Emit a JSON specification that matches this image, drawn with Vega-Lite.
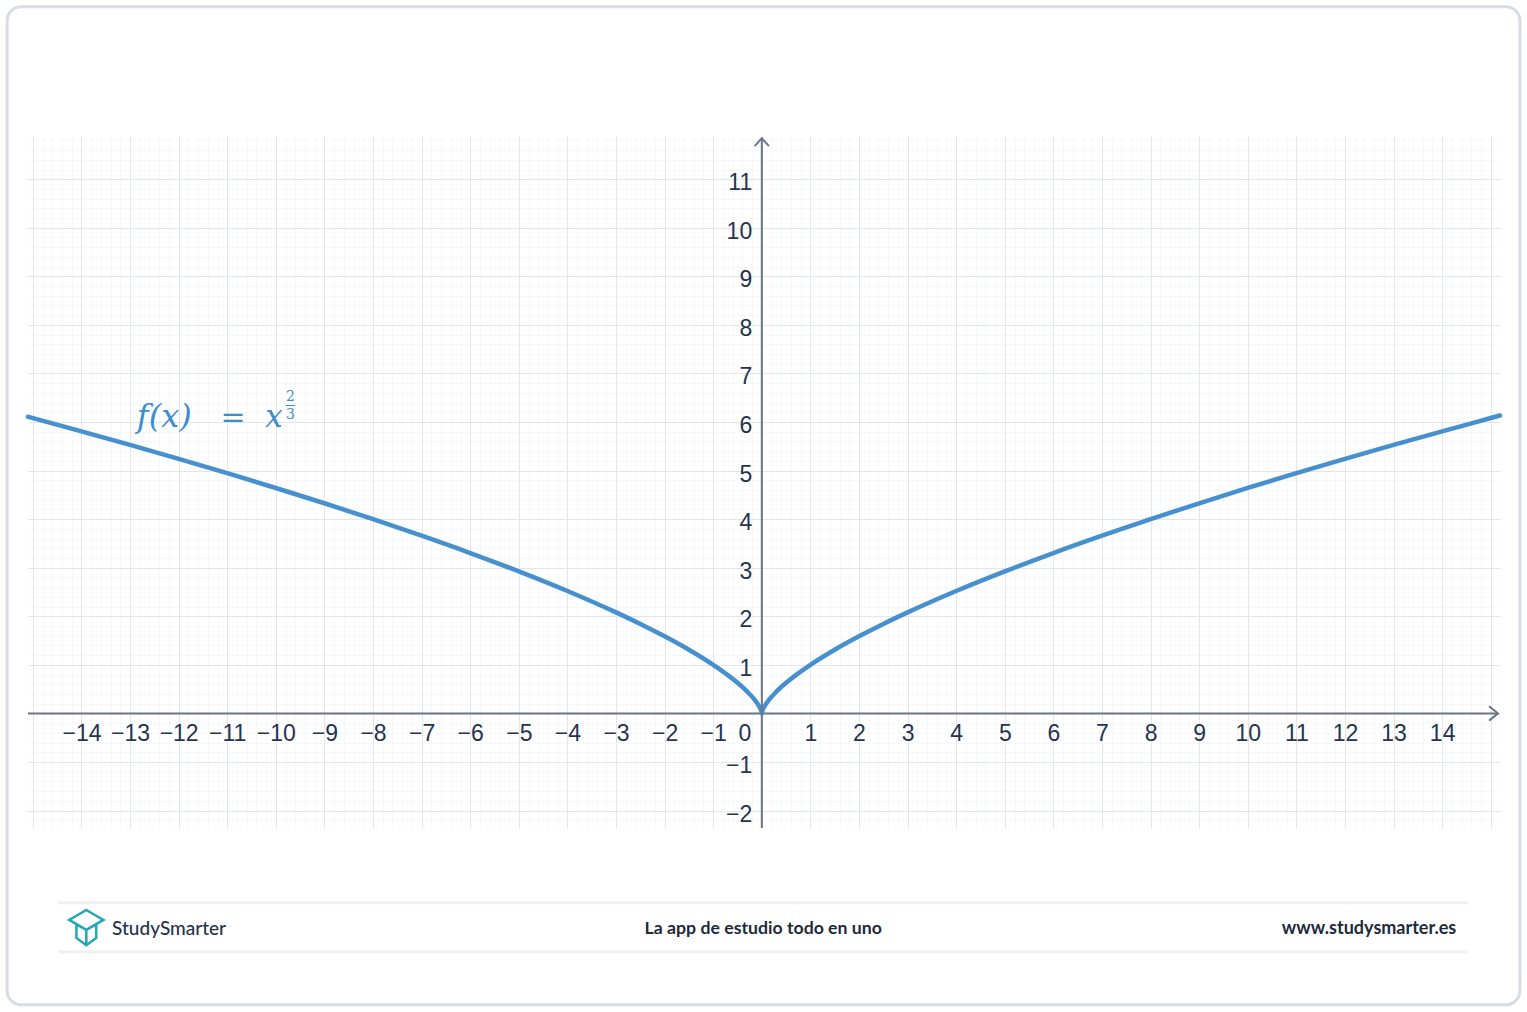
{
  "$schema": "https://vega.github.io/schema/vega-lite/v6.json",
  "autosize": {"type": "none"},
  "width": 1472,
  "height": 692,
  "padding": {"left": 28, "top": 136, "right": 27, "bottom": 184},
  "background": "white",
  "config": {"view": {"stroke": null}, "axis": {"labelFont": "Liberation Sans"}},
  "datasets": {
    "curve": [
      {"x": -15.1, "y": 6.109}, {"x": -14, "y": 5.809}, {"x": -13, "y": 5.529}, {"x": -12, "y": 5.241},
      {"x": -11, "y": 4.946}, {"x": -10, "y": 4.642}, {"x": -9, "y": 4.327}, {"x": -8, "y": 4.0},
      {"x": -7, "y": 3.659}, {"x": -6, "y": 3.302}, {"x": -5, "y": 2.924}, {"x": -4, "y": 2.52},
      {"x": -3, "y": 2.08}, {"x": -2.5, "y": 1.842}, {"x": -2, "y": 1.587}, {"x": -1.5, "y": 1.31},
      {"x": -1, "y": 1.0}, {"x": -0.7, "y": 0.788}, {"x": -0.5, "y": 0.63}, {"x": -0.3, "y": 0.448},
      {"x": -0.15, "y": 0.282}, {"x": -0.05, "y": 0.136}, {"x": -0.01, "y": 0.046}, {"x": 0, "y": 0},
      {"x": 0.01, "y": 0.046}, {"x": 0.05, "y": 0.136}, {"x": 0.15, "y": 0.282}, {"x": 0.3, "y": 0.448},
      {"x": 0.5, "y": 0.63}, {"x": 0.7, "y": 0.788}, {"x": 1, "y": 1.0}, {"x": 1.5, "y": 1.31},
      {"x": 2, "y": 1.587}, {"x": 2.5, "y": 1.842}, {"x": 3, "y": 2.08}, {"x": 4, "y": 2.52},
      {"x": 5, "y": 2.924}, {"x": 6, "y": 3.302}, {"x": 7, "y": 3.659}, {"x": 8, "y": 4.0},
      {"x": 9, "y": 4.327}, {"x": 10, "y": 4.642}, {"x": 11, "y": 4.946}, {"x": 12, "y": 5.241},
      {"x": 13, "y": 5.529}, {"x": 14, "y": 5.809}, {"x": 15, "y": 6.082}, {"x": 15.19, "y": 6.134}
    ]
  },
  "layer": [
    {
      "data": {"values": [{}]},
      "mark": {"type": "rect", "fill": "transparent", "stroke": "#d8dde3", "strokeWidth": 3, "cornerRadius": 14},
      "encoding": {
        "x": {"datum": -15.53, "type": "quantitative", "axis": null, "scale": {"domain": [-15.1, 15.19], "nice": false, "zero": false}},
        "x2": {"datum": 15.6},
        "y": {"datum": 14.55, "type": "quantitative", "axis": null, "scale": {"domain": [-2.36, 11.89], "nice": false, "zero": false}},
        "y2": {"datum": -6.0}
      }
    },
    {
      "data": {"values": [{}]},
      "mark": {"type": "rule", "color": "#6b7684", "strokeWidth": 2},
      "encoding": {
        "x": {"datum": -15.1, "type": "quantitative", "axis": {"orient": "bottom", "grid": true, "tickCount": 150, "gridColor": "#e9ecf0", "gridOpacity": 0.35, "labels": false, "ticks": false, "domain": false, "title": null}},
        "x2": {"datum": 15.15},
        "y": {"datum": 0, "type": "quantitative", "axis": {"orient": "left", "grid": true, "tickCount": 71, "gridColor": "#e9ecf0", "gridOpacity": 0.35, "labels": false, "ticks": false, "domain": false, "title": null}}
      }
    },
    {
      "data": {"name": "curve"},
      "mark": {"type": "line", "color": "#4690d0", "strokeWidth": 4.5, "interpolate": "monotone", "strokeCap": "round", "strokeJoin": "round"},
      "encoding": {
        "x": {"field": "x", "type": "quantitative", "scale": {"domain": [-15.1, 15.19], "nice": false, "zero": false},
              "axis": {"orient": "bottom", "grid": true, "values": [-15,-14,-13,-12,-11,-10,-9,-8,-7,-6,-5,-4,-3,-2,-1,0,1,2,3,4,5,6,7,8,9,10,11,12,13,14,15], "gridColor": "#e2e6eb", "labels": false, "ticks": false, "domain": false, "title": null}},
        "y": {"field": "y", "type": "quantitative", "scale": {"domain": [-2.36, 11.89], "nice": false, "zero": false},
              "axis": {"orient": "left", "grid": true, "values": [-2,-1,0,1,2,3,4,5,6,7,8,9,10,11], "gridColor": "#e2e6eb", "labels": false, "ticks": false, "domain": false, "title": null}}
      }
    },
    {
      "data": {"values": [{}]},
      "mark": {"type": "rule", "color": "#6b7684", "strokeWidth": 2},
      "encoding": {
        "x": {"datum": 0, "type": "quantitative", "axis": {"orient": "bottom", "offset": -114.5, "values": [-14,-13,-12,-11,-10,-9,-8,-7,-6,-5,-4,-3,-2,-1,1,2,3,4,5,6,7,8,9,10,11,12,13,14], "grid": false, "domain": false, "ticks": false, "tickSize": 0, "labelPadding": 19.5, "labelBaseline": "middle", "labelFontSize": 23, "labelColor": "#243450", "labelFlush": false, "labelOverlap": false, "labelBound": false, "title": null}},
        "y": {"datum": -2.36, "type": "quantitative", "axis": {"orient": "left", "offset": -733.7, "values": [-2,-1,1,2,3,4,5,6,7,8,9,10,11], "grid": false, "domain": false, "ticks": false, "tickSize": 0, "labelPadding": 10, "labelOffset": 3.5, "labelBaseline": "middle", "labelAlign": "right", "labelFontSize": 23, "labelColor": "#243450", "labelFlush": false, "labelOverlap": false, "labelBound": false, "title": null}},
        "y2": {"datum": 11.845}
      }
    },
    {
      "data": {"values": [{}]},
      "mark": {"type": "point", "shape": "M-1,-0.8L0,0L-1,0.8", "size": 324, "filled": false, "stroke": "#6b7684", "strokeWidth": 2, "opacity": 1},
      "encoding": {
        "x": {"datum": 15.15, "type": "quantitative", "axis": null},
        "y": {"datum": 0, "type": "quantitative", "axis": null}
      }
    },
    {
      "data": {"values": [{}]},
      "mark": {"type": "point", "shape": "M-0.9,1L0,0L0.9,1", "size": 256, "filled": false, "stroke": "#6b7684", "strokeWidth": 2, "opacity": 1},
      "encoding": {
        "x": {"datum": 0, "type": "quantitative", "axis": null},
        "y": {"datum": 11.845, "type": "quantitative", "axis": null}
      }
    },
    {
      "data": {"values": [{"t": "0"}]},
      "mark": {"type": "text", "font": "Liberation Sans", "fontSize": 23, "color": "#243450", "align": "center", "baseline": "middle", "dx": -17, "dy": 20.5},
      "encoding": {
        "x": {"datum": 0, "type": "quantitative", "axis": null},
        "y": {"datum": 0, "type": "quantitative", "axis": null},
        "text": {"field": "t"}
      }
    },
    {
      "data": {"values": [{"t": "f(x)"}]},
      "mark": {"type": "text", "font": "DejaVu Serif", "fontStyle": "italic", "fontWeight": "normal", "fontSize": 32, "color": "#3d8dcc", "align": "left", "baseline": "alphabetic"},
      "encoding": {
        "x": {"datum": -12.86, "type": "quantitative", "axis": null},
        "y": {"datum": 5.9, "type": "quantitative", "axis": null},
        "text": {"field": "t"}
      }
    },
    {
      "data": {"values": [{"t": "="}]},
      "mark": {"type": "text", "font": "DejaVu Serif", "fontSize": 30, "color": "#3d8dcc", "align": "center", "baseline": "alphabetic"},
      "encoding": {
        "x": {"datum": -10.88, "type": "quantitative", "axis": null},
        "y": {"datum": 5.9, "type": "quantitative", "axis": null},
        "text": {"field": "t"}
      }
    },
    {
      "data": {"values": [{"t": "x"}]},
      "mark": {"type": "text", "font": "DejaVu Serif", "fontStyle": "italic", "fontSize": 31, "color": "#3d8dcc", "align": "left", "baseline": "alphabetic"},
      "encoding": {
        "x": {"datum": -10.22, "type": "quantitative", "axis": null},
        "y": {"datum": 5.9, "type": "quantitative", "axis": null},
        "text": {"field": "t"}
      }
    },
    {
      "data": {"values": [{"t": "2"}]},
      "mark": {"type": "text", "font": "DejaVu Serif", "fontSize": 14, "color": "#3d8dcc", "align": "center", "baseline": "middle"},
      "encoding": {
        "x": {"datum": -9.7, "type": "quantitative", "axis": null},
        "y": {"datum": 6.52, "type": "quantitative", "axis": null},
        "text": {"field": "t"}
      }
    },
    {
      "data": {"values": [{"t": "3"}]},
      "mark": {"type": "text", "font": "DejaVu Serif", "fontSize": 14, "color": "#3d8dcc", "align": "center", "baseline": "middle"},
      "encoding": {
        "x": {"datum": -9.7, "type": "quantitative", "axis": null},
        "y": {"datum": 6.15, "type": "quantitative", "axis": null},
        "text": {"field": "t"}
      }
    },
    {
      "data": {"values": [{}]},
      "mark": {"type": "rule", "color": "#3d8dcc", "strokeWidth": 1},
      "encoding": {
        "x": {"datum": -9.8, "type": "quantitative", "axis": null},
        "x2": {"datum": -9.6},
        "y": {"datum": 6.34, "type": "quantitative", "axis": null}
      }
    },
    {
      "data": {"values": [{}]},
      "mark": {"type": "rule", "color": "#eef0f3", "strokeWidth": 3},
      "encoding": {
        "x": {"datum": -14.48, "type": "quantitative", "axis": null},
        "x2": {"datum": 14.53},
        "y": {"datum": -3.9, "type": "quantitative", "axis": null}
      }
    },
    {
      "data": {"values": [{}]},
      "mark": {"type": "rule", "color": "#eef0f3", "strokeWidth": 3},
      "encoding": {
        "x": {"datum": -14.48, "type": "quantitative", "axis": null},
        "x2": {"datum": 14.53},
        "y": {"datum": -4.91, "type": "quantitative", "axis": null}
      }
    },
    {
      "data": {"values": [{"t": "StudySmarter"}]},
      "mark": {"type": "text", "font": "Lato", "fontSize": 19, "fontWeight": 500, "color": "#26334a", "align": "left", "baseline": "middle"},
      "encoding": {
        "x": {"datum": -13.37, "type": "quantitative", "axis": null},
        "y": {"datum": -4.44, "type": "quantitative", "axis": null},
        "text": {"field": "t"}
      }
    },
    {
      "data": {"values": [{"t": "La app de estudio todo en uno"}]},
      "mark": {"type": "text", "font": "Lato", "fontSize": 17.7, "fontWeight": "bold", "color": "#1e2a3b", "align": "center", "baseline": "middle"},
      "encoding": {
        "x": {"datum": 0.03, "type": "quantitative", "axis": null},
        "y": {"datum": -4.44, "type": "quantitative", "axis": null},
        "text": {"field": "t"}
      }
    },
    {
      "data": {"values": [{"t": "www.studysmarter.es"}]},
      "mark": {"type": "text", "font": "Lato", "fontSize": 18, "fontWeight": "bold", "color": "#1e2a3b", "align": "right", "baseline": "middle"},
      "encoding": {
        "x": {"datum": 14.29, "type": "quantitative", "axis": null},
        "y": {"datum": -4.44, "type": "quantitative", "axis": null},
        "text": {"field": "t"}
      }
    },
    {
      "data": {"values": [{}]},
      "mark": {"type": "point", "shape": "M0,-1L0.95,-0.45L0,0.1L-0.95,-0.45ZM-0.55,-0.2L-0.55,0.55L0,0.95L0.55,0.55L0.55,-0.2M-0.55,-0.2L0,0.1L0.55,-0.2M0,0.1L0,0.95", "size": 1296, "filled": false, "stroke": "#22a7b5", "strokeWidth": 2.5, "opacity": 1},
      "encoding": {
        "x": {"datum": -13.9, "type": "quantitative", "axis": null},
        "y": {"datum": -4.42, "type": "quantitative", "axis": null}
      }
    }
  ],
  "resolve": {"axis": {"x": "independent", "y": "independent"}}
}
